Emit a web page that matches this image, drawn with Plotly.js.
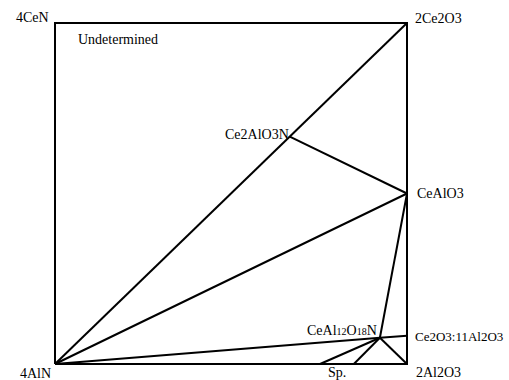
<!DOCTYPE html>
<html>
<head>
<meta charset="utf-8">
<script src="https://cdn.plot.ly/plotly-3.0.1.min.js"></script>
<style>
  body { margin: 0; background: #fff; }
  #myDiv { width: 509px; height: 380px; }
</style>
</head>
<body>
<div id="myDiv"></div>
<script>
// compositions: x = oxygen equivalent fraction, y = cerium equivalent fraction
const phaseNames = ['4AlN', '4CeN', '2Ce2O3', '2Al2O3', 'Ce2AlO3N', 'CeAlO3', 'CeAl12O18N', 'Ce2O3:11Al2O3', 'SpA', 'SpB'];
const oxygenFrac = [0, 0, 1, 1, 0.667, 1, 0.923, 1, 0.753, 0.849];
const ceriumFrac = [0, 1, 1, 0, 0.667, 0.5, 0.077, 0.083, 0, 0];

// border of the square and the tie lines
const borderPath = ['4AlN', '4CeN', '2Ce2O3', '2Al2O3', '4AlN'];
const tieLines = [
  ['4AlN', '2Ce2O3'],
  ['Ce2AlO3N', 'CeAlO3'],
  ['4AlN', 'CeAlO3'],
  ['CeAlO3', 'CeAl12O18N'],
  ['4AlN', 'CeAl12O18N'],
  ['CeAl12O18N', 'Ce2O3:11Al2O3'],
  ['CeAl12O18N', 'SpA'],
  ['CeAl12O18N', 'SpB'],
  ['CeAl12O18N', '2Al2O3']
];

const pt = name => phaseNames.indexOf(name);

const xs = [], ys = [];
borderPath.forEach(n => { xs.push(oxygenFrac[pt(n)]); ys.push(ceriumFrac[pt(n)]); });
xs.push(null); ys.push(null);
tieLines.forEach(([a, b]) => {
  xs.push(oxygenFrac[pt(a)], oxygenFrac[pt(b)], null);
  ys.push(ceriumFrac[pt(a)], ceriumFrac[pt(b)], null);
});

const trace = {
  x: xs,
  y: ys,
  type: 'scatter',
  mode: 'lines',
  line: { color: '#000', width: 2 },
  hoverinfo: 'skip',
  showlegend: false
};

// label placement (pixel offsets from each phase point)
const label = (name, text, xanchor, xshift, yshift, fontSize) => {
  const a = {
    x: oxygenFrac[pt(name)],
    y: ceriumFrac[pt(name)],
    text: text,
    showarrow: false,
    xanchor: xanchor,
    yanchor: 'middle',
    xshift: xshift,
    yshift: yshift
  };
  if (fontSize) a.font = { size: fontSize };
  return a;
};

const small = s => '<span style="font-size:10px">' + s + '</span>';

const annotations = [
  label('4CeN', '4CeN', 'right', -4, 6),
  label('2Ce2O3', '2Ce2O3', 'left', 6, 5),
  label('4CeN', 'Undetermined', 'left', 21, -16),
  label('Ce2AlO3N', 'Ce2AlO3N', 'right', 1, 2),
  label('CeAlO3', 'CeAlO3', 'left', 8, 0),
  label('CeAl12O18N', 'CeAl' + small('12') + 'O' + small('18') + 'N', 'right', -1, 7),
  label('Ce2O3:11Al2O3', 'Ce2O3:11Al2O3', 'left', 6, -1, 13),
  label('2Al2O3', '2Al2O3', 'left', 7, -8),
  label('4AlN', '4AlN', 'right', -2, -9),
  {
    x: (oxygenFrac[pt('SpA')] + oxygenFrac[pt('SpB')]) / 2,
    y: 0, text: 'Sp.', showarrow: false,
    xanchor: 'center', yanchor: 'middle', yshift: -8
  }
];

const padX = 4 / 352, padY = 4 / 341;

const layout = {
  width: 509,
  height: 380,
  margin: { l: 51, r: 98, t: 19, b: 12 },
  paper_bgcolor: '#fff',
  plot_bgcolor: '#fff',
  font: { family: 'Liberation Serif, Times New Roman, serif', size: 14, color: '#000' },
  xaxis: {
    range: [-padX, 1 + padX],
    showgrid: false, zeroline: false, showticklabels: false, showline: false, ticks: ''
  },
  yaxis: {
    range: [-padY, 1 + padY],
    showgrid: false, zeroline: false, showticklabels: false, showline: false, ticks: ''
  },
  annotations: annotations
};

Plotly.newPlot('myDiv', [trace], layout, { displayModeBar: false, staticPlot: true });
</script>
</body>
</html>
